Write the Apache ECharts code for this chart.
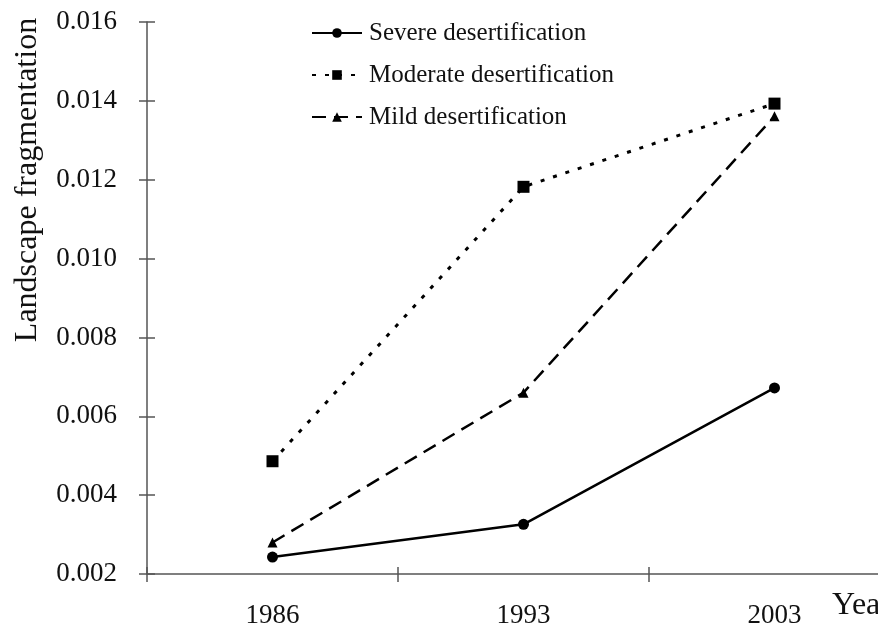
<!DOCTYPE html>
<html>
<head>
<meta charset="utf-8">
<script src="https://cdn.jsdelivr.net/npm/echarts@6/dist/echarts.min.js"></script>
<style>
  html, body { margin: 0; padding: 0; background: #fff; }
  #main { width: 878px; height: 631px; }
</style>
</head>
<body>
<div id="main"></div>
<script>
var years = ['1986', '1993', '2003'];
var severe = [0.00243, 0.00326, 0.00672];
var moderate = [0.00486, 0.01182, 0.01393];
var mild = [0.0028, 0.0066, 0.01361];
var yTicks = { min: 0.002, max: 0.016, step: 0.002 };

var serif = "'Liberation Serif', 'Times New Roman', serif";
var axisCol = '#555';

var chart = echarts.init(document.getElementById('main'));
chart.setOption({
    backgroundColor: '#fff',
    animation: false,
    textStyle: { fontFamily: serif, color: '#111' },
    // plot runs past the right edge, like the cropped original
    grid: { left: 147, top: 22, bottom: 57, width: 753, containLabel: false, outerBoundsMode: 'none' },
    legend: {
        orient: 'vertical',
        left: 306,
        top: 15,
        itemWidth: 50,
        itemHeight: 12,
        itemGap: 16,
        textStyle: { fontFamily: serif, fontSize: 25, color: '#111', lineHeight: 26, padding: [0, 0, 0, 2] },
        data: ['Severe desertification', 'Moderate desertification', 'Mild desertification']
    },
    xAxis: [{
        type: 'category',
        data: years,
        boundaryGap: true,
        axisLine: { lineStyle: { color: axisCol, width: 1.5 } },
        axisTick: { show: true, alignWithLabel: false, length: 8, interval: 0, lineStyle: { color: axisCol, width: 1.5 } },
        axisLabel: { fontFamily: serif, fontSize: 27, color: '#111', margin: 28 }
    }, {
        type: 'category',
        data: years,
        position: 'bottom',
        boundaryGap: true,
        axisLine: { show: false },
        axisTick: { show: true, alignWithLabel: false, inside: true, interval: 0, length: 7, lineStyle: { color: axisCol, width: 1.5 } },
        axisLabel: { show: false }
    }],
    yAxis: [{
        type: 'value',
        min: yTicks.min,
        max: yTicks.max,
        interval: yTicks.step,
        splitLine: { show: false },
        axisLine: { show: true, lineStyle: { color: axisCol, width: 1.5 } },
        axisTick: { show: true, length: 8, lineStyle: { color: axisCol, width: 1.5 } },
        axisLabel: {
            fontFamily: serif, fontSize: 27, color: '#111', margin: 30,
            formatter: function (v) { return v.toFixed(3); }
        }
    }, {
        type: 'value',
        min: yTicks.min,
        max: yTicks.max,
        interval: yTicks.step,
        position: 'left',
        splitLine: { show: false },
        axisLine: { show: false },
        axisTick: { show: true, inside: true, length: 8, lineStyle: { color: axisCol, width: 1.5 } },
        axisLabel: { show: false }
    }],
    graphic: [{
        type: 'text',
        x: 28,
        y: 180,
        rotation: Math.PI / 2,
        style: {
            text: 'Landscape fragmentation', font: '32px ' + serif, fill: '#111',
            align: 'center', verticalAlign: 'middle'
        }
    }, {
        type: 'text',
        left: 832,
        top: 590,
        style: { text: 'Year', font: '32px ' + serif, fill: '#111' }
    }],
    series: [{
        name: 'Severe desertification',
        type: 'line',
        data: severe,
        symbol: 'circle',
        symbolSize: 11,
        itemStyle: { color: '#000' },
        lineStyle: { color: '#000', width: 2.5, type: 'solid' }
    }, {
        name: 'Moderate desertification',
        type: 'line',
        data: moderate,
        symbol: 'rect',
        symbolSize: 12,
        itemStyle: { color: '#000' },
        lineStyle: { color: '#000', width: 3, type: [4, 9] }
    }, {
        name: 'Mild desertification',
        type: 'line',
        data: mild,
        symbol: 'triangle',
        symbolSize: 10,
        itemStyle: { color: '#000' },
        lineStyle: { color: '#000', width: 2.5, type: [14, 8] }
    }]
});
</script>
</body>
</html>
